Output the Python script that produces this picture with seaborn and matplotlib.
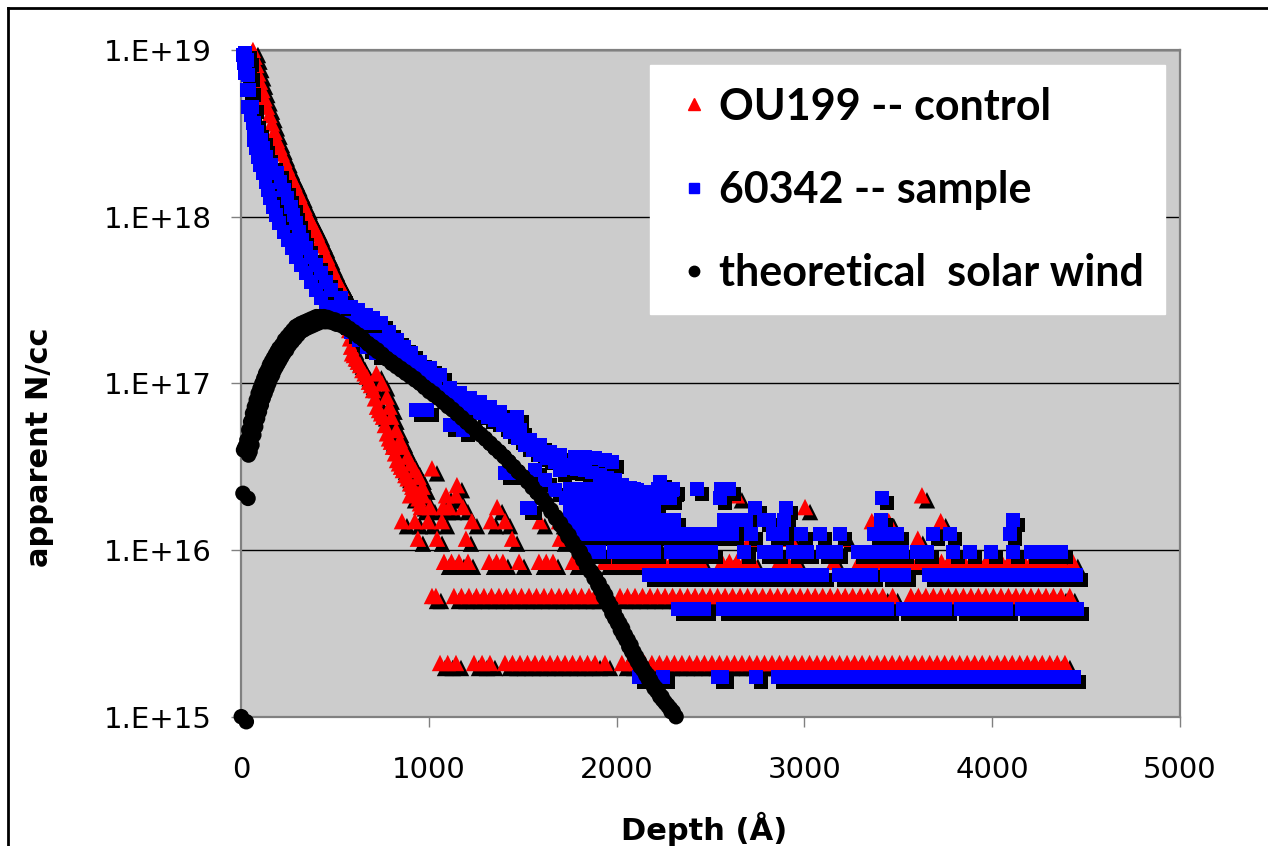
import numpy as np
import pandas as pd
import matplotlib
matplotlib.use("Agg")
import matplotlib.pyplot as plt
import matplotlib.transforms as mtransforms
from matplotlib.lines import Line2D
from matplotlib.ticker import NullLocator
import seaborn as sns

# ---------------- axis text ----------------
x_ticks = [0, 1000, 2000, 3000, 4000, 5000]
x_tick_labels = ["0", "1000", "2000", "3000", "4000", "5000"]
y_ticks = [1e15, 1e16, 1e17, 1e18, 1e19]
y_tick_labels = ["1.E+15", "1.E+16", "1.E+17", "1.E+18", "1.E+19"]
series_names = ["OU199 -- control", "60342 -- sample", "theoretical  solar wind"]

# ---------------- OU199 control ----------------
# near-surface decay: depth (Å) and log10(N/cc)
control_decay_depth = [62, 70, 80, 90, 100, 112, 124, 137, 150, 163, 177, 190, 203, 216, 230,
                       243, 257, 270, 283, 297, 310, 323, 337, 350, 363, 376, 390, 403, 417, 430,
                       443, 457, 470, 483, 497, 510, 521, 532, 543, 553, 561, 569, 575, 580, 585,
                       590, 600, 610, 621, 633, 645, 657, 669, 680, 691, 702, 712, 723, 734, 745,
                       755, 765, 776, 787, 797, 808, 819, 830, 840, 851, 861, 874, 886, 899, 911,
                       924, 936, 944, 952,
                       720, 750, 775, 790, 800, 825, 845, 860, 885, 905, 925, 945, 965]
control_decay_log = [19.00, 18.96, 18.91, 18.86, 18.81, 18.76, 18.71, 18.66, 18.61, 18.56, 18.51, 18.46, 18.42, 18.38, 18.34,
                     18.30, 18.26, 18.23, 18.20, 18.16, 18.13, 18.09, 18.06, 18.02, 17.99, 17.96, 17.93, 17.90, 17.86, 17.83,
                     17.79, 17.76, 17.72, 17.69, 17.65, 17.62, 17.60, 17.57, 17.55, 17.53, 17.46, 17.38, 17.32, 17.27, 17.22,
                     17.18, 17.17, 17.15, 17.13, 17.11, 17.08, 17.06, 17.04, 17.01, 16.99, 16.96, 16.91, 16.86, 16.84, 16.82,
                     16.80, 16.75, 16.70, 16.67, 16.65, 16.62, 16.58, 16.54, 16.52, 16.50, 16.48, 16.45, 16.43, 16.40, 16.38,
                     16.36, 16.34, 16.31, 16.28,
                     17.06, 17.00, 16.92, 16.86, 16.80, 16.72, 16.66, 16.62, 16.56, 16.52, 16.48, 16.44, 16.38]
# count-limited plateaus of the control profile (N/cc) and the depths where they occur
control_levels = [2.1e15, 5.3e15, 8.5e15, 1.17e16, 1.49e16, 1.81e16, 2.13e16, 2.45e16, 3.09e16]
control_k0_depth = [1059, 1100, 1144, 1240, 1283, 1325,
                    1405, 1445, 1485, 1525, 1565, 1605, 1645, 1685, 1725, 1765, 1805, 1845, 1885, 1938,
                    2028, 2068, 2108, 2148, 2188, 2228, 2268, 2308, 2348, 2388, 2428, 2468, 2508, 2548,
                    2588, 2628, 2668, 2708, 2748, 2788, 2828, 2868, 2908, 2948, 2988, 3028, 3068, 3108,
                    3148, 3188, 3228, 3268, 3308, 3348, 3388, 3428, 3468, 3508, 3548, 3588, 3628, 3668,
                    3708, 3748, 3788, 3828, 3868, 3908, 3948, 3988, 4028, 4068, 4108, 4148, 4188, 4228,
                    4268, 4308, 4348, 4389]
control_k1_depth = [1016, 1037,
                    1133, 1173, 1213, 1253, 1293, 1333, 1373, 1413, 1453, 1493, 1533, 1573, 1613, 1653,
                    1693, 1733, 1773, 1813, 1853, 1884,
                    2018, 2058, 2098, 2138, 2178, 2218, 2258, 2298, 2338, 2378, 2418, 2458, 2498, 2538,
                    2578, 2618, 2658, 2698, 2738, 2778, 2818, 2858, 2898, 2938, 2978, 3018, 3058, 3098,
                    3138, 3178, 3218, 3258, 3298, 3338, 3378, 3418, 3471,
                    3568, 3608, 3648, 3688, 3728, 3768, 3808, 3848, 3888, 3928, 3968, 4008, 4048, 4088,
                    4128, 4168, 4208, 4248, 4288, 4328, 4368, 4415]
control_k2_depth = [1080, 1120, 1160, 1208, 1320, 1360, 1394, 1480, 1586, 1625, 1661, 1767,
                    1933, 1973, 2013, 2053, 2093, 2133, 2173, 2213, 2253, 2293, 2333, 2373, 2413, 2449,
                    2561, 2601, 2641, 2681, 2726, 2865, 2910, 2955, 3158,
                    3291, 3331, 3371, 3411, 3451, 3491, 3531, 3571, 3611, 3651, 3691, 3731, 3771, 3811,
                    3851, 3891, 3931, 3971, 4011, 4051, 4091, 4131, 4171, 4211, 4251, 4291, 4331, 4371, 4431]
control_k3_depth = [941, 1043, 1197, 1443, 1698, 2071, 2193, 2406, 2710, 2928, 3216, 3605]
control_k4_depth = [856, 925, 995, 1069, 1229, 1330, 1405, 1591, 1693, 2891, 3360, 3450, 3727]
control_k5_depth = [957, 1005, 1075, 1107, 1181, 1363, 3004]
control_k6_depth = [899, 968, 1091, 1144, 2641, 3627]
control_k7_depth = [1149]
control_k9_depth = [1016]
control_level_depths = [control_k0_depth, control_k1_depth, control_k2_depth, control_k3_depth,
                        control_k4_depth, control_k5_depth, control_k6_depth, control_k7_depth,
                        control_k9_depth]

# ---------------- 60342 sample ----------------
# near-surface decay band: depth (Å) and log10(N/cc)
sample_decay_depth = [9, 14, 20, 28, 36, 49, 62, 65, 68, 78, 89, 102, 116, 129, 142, 155, 169, 185, 201, 225,
                      249, 270, 291, 318, 345, 371, 398, 424, 451, 496, 542, 584, 627, 672, 718,
                      20, 30, 36, 41, 55, 68, 86, 105, 118, 132, 161, 190, 209, 228, 246, 265, 278, 291, 307, 323,
                      347, 371, 397, 424, 451, 478, 531, 584, 664, 744, 787, 830, 867, 904,
                      516, 605, 624, 675, 696, 704, 765, 781, 845,
                      792, 845, 899, 952, 1005, 1059, 1112, 1165, 1219, 1272, 1325, 1378, 1432, 1469, 1485,
                      1538, 1591, 1645, 1698, 1778, 1831, 1885, 1938, 1975, 2231, 2295,
                      792, 832, 872, 912, 952, 992, 1032, 1072, 1112, 1152, 1192, 1232, 1272, 1312, 1352, 1392,
                      1432, 1472, 1512, 1552, 1591, 1631, 1671, 1711, 1751, 1791, 1831, 1871, 1911, 1951,
                      1991, 2031, 2071, 2111, 2151, 2191, 2231,
                      930, 989, 1112, 1181, 1405, 1442, 1522, 1565, 1618, 1671, 1698]
sample_decay_log = [18.97, 18.92, 18.86, 18.76, 18.66, 18.61, 18.56, 18.51, 18.46, 18.41, 18.36, 18.31, 18.26, 18.21, 18.16, 18.11, 18.06, 18.01, 17.96, 17.91,
                    17.86, 17.81, 17.76, 17.71, 17.66, 17.61, 17.56, 17.51, 17.46, 17.41, 17.36, 17.31, 17.26, 17.22, 17.18,
                    18.98, 18.94, 18.85, 18.76, 18.66, 18.56, 18.51, 18.46, 18.41, 18.36, 18.31, 18.26, 18.21, 18.16, 18.11, 18.06, 18.01, 17.96, 17.91, 17.86,
                    17.81, 17.76, 17.71, 17.66, 17.61, 17.56, 17.51, 17.46, 17.41, 17.36, 17.31, 17.26, 17.22, 17.18,
                    17.46, 17.36, 17.44, 17.36, 17.26, 17.39, 17.26, 17.18, 17.18,
                    17.23, 17.20, 17.17, 17.13, 17.09, 17.05, 16.97, 16.94, 16.91, 16.89, 16.86, 16.83, 16.78, 16.80, 16.72,
                    16.66, 16.63, 16.59, 16.57, 16.56, 16.56, 16.55, 16.54, 16.53, 16.41, 16.36,
                    17.16, 17.14, 17.12, 17.09, 17.06, 17.03, 16.99, 16.95, 16.91, 16.89, 16.87, 16.85, 16.82, 16.80, 16.78, 16.75,
                    16.71, 16.67, 16.63, 16.60, 16.57, 16.55, 16.53, 16.51, 16.49, 16.485, 16.48, 16.465, 16.45, 16.435,
                    16.42, 16.39, 16.37, 16.36, 16.35, 16.34, 16.33,
                    16.84, 16.84, 16.75, 16.72, 16.46, 16.46, 16.25, 16.48, 16.42, 16.36, 16.48]
# count-limited plateaus of the sample profile (N/cc) and the depths where they occur
sample_levels = [1.73e15, 4.41e15, 7.09e15, 9.77e15, 1.245e16, 1.513e16, 1.781e16, 2.049e16, 2.317e16]
sample_k0_depth = [2119, 2146, 2247, 2540, 2561, 2742,
                   2859, 2899, 2939, 2979, 3019, 3059, 3099, 3139, 3179, 3219, 3259, 3299, 3339, 3379,
                   3419, 3459, 3499, 3539, 3579, 3619, 3659, 3696,
                   3765, 3805, 3845, 3885, 3925, 3965, 4005, 4045, 4085, 4125, 4165, 4205, 4245, 4285,
                   4325, 4365, 4405, 4436]
sample_k1_depth = [2326, 2372, 2418, 2465,
                   2567, 2607, 2647, 2687, 2727, 2767, 2807, 2847, 2887, 2927, 2967, 3007, 3047, 3087,
                   3127, 3167, 3207, 3247, 3287, 3327, 3367, 3407, 3441,
                   3526, 3566, 3606, 3646, 3686, 3726, 3749,
                   3835, 3875, 3915, 3955, 3995, 4035, 4075,
                   4160, 4200, 4240, 4280, 4320, 4360, 4400, 4453]
sample_k2_depth = [2172, 2212, 2252, 2292, 2332, 2372, 2412, 2452, 2492, 2532, 2572, 2612, 2652, 2692,
                   2732, 2772, 2812, 2852, 2892, 2932, 2972, 3012, 3052, 3094,
                   3185, 3225, 3265, 3305, 3355, 3440, 3485, 3531,
                   3664, 3704, 3744, 3784, 3824, 3864, 3904, 3944, 3984, 4024, 4064, 4104, 4144, 4184,
                   4224, 4264, 4304, 4344, 4384, 4448]
sample_k3_depth = [1821, 1863, 1906, 1986, 2026, 2066, 2106, 2146, 2199,
                   2289, 2329, 2369, 2409, 2449, 2502, 2678, 2784, 2816, 2848, 2939, 2976, 3013,
                   3098, 3133, 3168, 3286, 3326, 3366, 3406, 3446, 3486, 3520, 3600, 3653,
                   3792, 3885, 3994, 4111, 4207, 4250, 4292, 4367]
sample_k4_depth = [1746, 1786, 1826, 1866,
                   1890, 1930, 1970, 2010, 2050, 2090, 2130, 2170, 2210, 2250, 2290, 2330, 2370, 2410,
                   2450, 2490, 2530, 2570, 2614, 2715, 2832, 2880, 2982, 3083, 3189,
                   3370, 3410, 3450, 3493, 3685, 3776, 4095]
sample_k5_depth = [1746, 1786, 1826, 1866, 1906, 1946, 1986, 2026, 2066, 2106, 2146, 2186, 2226, 2266,
                   2305, 2572, 2610, 2650, 2689, 2785, 2811, 2891, 3408, 4111]
sample_k6_depth = [1538, 1750, 1790, 1830, 1870, 1910, 1943, 2007, 2071, 2135, 2199, 2736, 2901]
sample_k7_depth = [1730, 1768, 1805, 1845, 1885, 1925, 1964, 2004, 2044, 2084, 2124, 2164, 2204,
                   2244, 2284, 2551, 3413]
sample_k8_depth = [1750, 1800, 1850, 1900, 1950, 1997, 2040, 2093, 2221, 2301,
                   2429, 2557, 2599]
sample_level_depths = [sample_k0_depth, sample_k1_depth, sample_k2_depth, sample_k3_depth,
                       sample_k4_depth, sample_k5_depth, sample_k6_depth, sample_k7_depth,
                       sample_k8_depth]

# ---------------- theoretical solar wind ----------------
theory_depth = [0, 9, 12, 20, 30, 40, 50, 60, 70, 80, 90, 100, 110, 120, 130, 140, 150, 160, 170, 180,
                190, 200, 215, 230, 245, 260, 275, 290, 305, 320, 340, 360, 380, 400, 420, 440, 460, 480,
                500, 525, 550, 575, 600, 625, 650, 675, 700, 725, 750, 775, 800, 825, 850, 875, 900, 925,
                950, 975, 1000, 1025, 1050, 1075, 1100, 1125, 1150, 1175, 1200, 1225, 1250, 1275, 1300,
                1325, 1350, 1375, 1400, 1425, 1450, 1475, 1500, 1525, 1550, 1575, 1600, 1625, 1650, 1675,
                1700, 1720, 1740, 1760, 1780, 1800, 1820, 1840, 1860, 1880, 1900, 1915, 1930, 1945, 1960,
                1975, 1990, 2005, 2020, 2035, 2050, 2065, 2080, 2095, 2110, 2125, 2140, 2155, 2170, 2185,
                2200, 2215, 2230, 2245, 2260, 2275, 2290]
theory_log = [15.00, 16.34, 16.60, 16.62, 16.66, 16.72, 16.77, 16.82, 16.86, 16.90, 16.94, 16.97, 17.00, 17.03,
              17.06, 17.08, 17.11, 17.13, 17.15, 17.17, 17.19, 17.21, 17.23, 17.26, 17.28, 17.30, 17.32, 17.34,
              17.35, 17.36, 17.37, 17.38, 17.39, 17.40, 17.40, 17.40, 17.395, 17.385, 17.38, 17.365, 17.35,
              17.33, 17.31, 17.29, 17.265, 17.24, 17.22, 17.20, 17.175, 17.15, 17.13, 17.11, 17.09, 17.07,
              17.05, 17.03, 17.005, 16.98, 16.96, 16.94, 16.915, 16.89, 16.87, 16.845, 16.82, 16.795, 16.77,
              16.745, 16.72, 16.695, 16.67, 16.64, 16.615, 16.59, 16.56, 16.53, 16.50, 16.47, 16.44, 16.41,
              16.375, 16.345, 16.31, 16.27, 16.23, 16.19, 16.15, 16.12, 16.08, 16.05, 16.02, 15.98, 15.94,
              15.90, 15.87, 15.83, 15.79, 15.76, 15.72, 15.69, 15.66, 15.62, 15.59, 15.56, 15.52, 15.49,
              15.46, 15.42, 15.39, 15.36, 15.33, 15.30, 15.28, 15.25, 15.22, 15.20, 15.17, 15.15, 15.12,
              15.10, 15.08, 15.06, 15.03]


def build_frame(decay_depth, decay_log, levels=(), level_depths=()):
    parts = [pd.DataFrame({"depth": decay_depth, "conc": np.power(10.0, decay_log)})]
    for level, depths in zip(levels, level_depths):
        parts.append(pd.DataFrame({"depth": depths, "conc": [level] * len(depths)}))
    return pd.concat(parts, ignore_index=True)


control = build_frame(control_decay_depth, control_decay_log, control_levels, control_level_depths)
sample = build_frame(sample_decay_depth, sample_decay_log, sample_levels, sample_level_depths)
theory = build_frame(theory_depth, theory_log)

# ---------------- figure ----------------
W, H = 1268, 846
fig = plt.figure(figsize=(W / 100, H / 100), dpi=100)
fig.patch.set_facecolor("white")
ax = fig.add_axes([241.3 / W, 1 - 716.7 / H, 938.3 / W, 666.7 / H])
ax.set_facecolor("#CCCCCC")
ax.set_yscale("log")
ax.set_xlim(0, 5000)
ax.set_ylim(1e15, 1e19)

# drop shadow: same points shifted right/down a few pixels
shadow_tf = mtransforms.offset_copy(ax.transData, fig=fig, x=5, y=-5, units="dots")

styles = [(control, "^", "#FF0000", 140),
          (sample, "s", "#0000FF", 100),
          (theory, "o", "#000000", 125)]
for df, marker, color, size in styles:
    sns.scatterplot(data=df, x="depth", y="conc", marker=marker, color="black", s=size,
                    linewidth=0, edgecolor="none", legend=False, ax=ax, clip_on=False, zorder=3)
    ax.collections[-1].set_offset_transform(shadow_tf)
    sns.scatterplot(data=df, x="depth", y="conc", marker=marker, color=color, s=size,
                    linewidth=0, edgecolor="none", legend=False, ax=ax, clip_on=False, zorder=3)

# axes styling
ax.set_xticks(x_ticks, labels=x_tick_labels)
ax.set_yticks(y_ticks, labels=y_tick_labels)
ax.yaxis.set_minor_locator(NullLocator())
ax.xaxis.set_minor_locator(NullLocator())
ax.yaxis.grid(True, color="black", linewidth=1.0)
ax.xaxis.grid(False)
ax.set_axisbelow(True)
for side in ["left", "right", "top", "bottom"]:
    ax.spines[side].set_color("#808080")
    ax.spines[side].set_linewidth(1.6)
ax.tick_params(axis="y", direction="out", length=7, width=1, color="#808080",
               labelsize=21, pad=14, labelcolor="black")
ax.tick_params(axis="x", direction="out", length=7, width=1, color="#808080",
               labelsize=21, pad=21, labelcolor="black")
for lab in ax.get_xticklabels() + ax.get_yticklabels():
    lab.set_fontfamily("DejaVu Sans")

ax.set_xlabel("Depth (Å)", fontsize=22, fontweight="bold", family="DejaVu Sans", va="center")
ax.set_ylabel("apparent N/cc", fontsize=22, fontweight="bold", family="DejaVu Sans", va="center")
ax.xaxis.set_label_coords((704 - 241.3) / 938.3, (716.7 - 829) / 666.7)
ax.yaxis.set_label_coords((40 - 241.3) / 938.3, (716.7 - 447) / 666.7)

# legend
handles = [Line2D([], [], linestyle="none", marker="^", color="#FF0000", markersize=8),
           Line2D([], [], linestyle="none", marker="s", color="#0000FF", markersize=7),
           Line2D([], [], linestyle="none", marker="o", color="#000000", markersize=7.5)]
leg = ax.legend(handles, series_names, loc="upper left",
                bbox_to_anchor=(650 / W, 1 - 65 / H), bbox_transform=fig.transFigure,
                prop={"family": "Lato", "weight": "bold", "size": 31},
                frameon=True, fancybox=False, framealpha=1, facecolor="white", edgecolor="white",
                borderpad=0.5, handlelength=1.05, handletextpad=0.05, labelspacing=1.0,
                borderaxespad=0)
leg.set_zorder(5)

# outer chart border
fig.add_artist(Line2D([8 / W, 8 / W], [0, 1 - 8 / H], transform=fig.transFigure, color="black", lw=2))
fig.add_artist(Line2D([8 / W, 1], [1 - 8 / H, 1 - 8 / H], transform=fig.transFigure, color="black", lw=2))

fig.savefig("out.png", dpi=100)
